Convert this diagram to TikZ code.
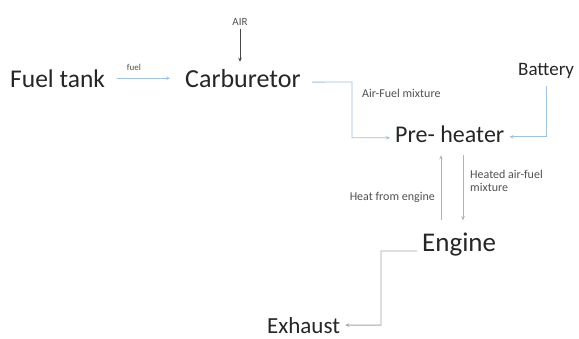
\documentclass[tikz,border=0pt]{standalone}
\usepackage{fontspec}
\setmainfont{Carlito}
\usetikzlibrary{arrows.meta,calc}
\definecolor{txt}{HTML}{262626}
\definecolor{lblue}{HTML}{9CC3E5}
\definecolor{gblue}{HTML}{A9B4C2}
\definecolor{lgray}{HTML}{A6A6A6}
\tikzset{
  big/.style={inner sep=0pt, anchor=base west, text=txt, font=\fontsize{#1}{#1}\selectfont},
  small/.style={inner sep=0pt, text=txt!80, font=\fontsize{#1}{#1}\selectfont},
  bl/.style={draw=lblue, line width=0.9pt, -{Stealth[length=4pt,width=3.5pt]}},
  gl/.style={draw=gblue, line width=0.9pt, -{Stealth[length=4pt,width=3.5pt]}},
  kl/.style={draw=lgray, line width=0.9pt, -{Stealth[length=4pt,width=3.5pt]}},
  dl/.style={draw=txt!85, line width=0.8pt, -{Stealth[length=4pt,width=3.5pt]}}
}
\begin{document}
\begin{tikzpicture}[x=1pt,y=-1pt]
\useasboundingbox[fill=white] (0,0) rectangle (579,338);
% main nodes
\node[big=25.5] (ft) at (10,87) {Fuel tank};
\node[big=26] (carb) at (185,87) {Carburetor};
\node[big=24] (pre) at (395,142) {Pre- heater};
\node[big=19] (bat) at (518,75) {Battery};
\node[big=27] (eng) at (422,251) {Engine};
\node[big=23] (exh) at (267,333) {Exhaust};
% labels
\node[small=11] (air) at (240,22) {AIR};
\node[small=9] (fuel) at (134,67) {fuel};
\node[small=12, anchor=west] (afm) at (362,93) {Air-Fuel mixture};
\node[small=12, anchor=east] (hfe) at (435,197) {Heat from engine};
\node[small=12, anchor=north west, align=left] (hafm) at (470,170) {Heated air-fuel\\[1pt]mixture};
% helper coordinates
\coordinate (k1) at (352,82);
\coordinate (k2) at (381,251);
\coordinate (ua) at (441,0);
\coordinate (da) at (463,0);
% connectors
\draw[bl, shorten <=12pt, shorten >=15pt] (ft.east) -- (ft.east -| carb.west);
\draw[dl, shorten <=3pt, shorten >=7pt] (air.south) -- (air.south |- carb.north);
\draw[bl, shorten >=5pt] ($(carb.east)+(11,4)$) -- (k1) |- ($(pre.west)+(0,4)$);
\draw[bl, shorten <=8pt, shorten >=5pt] (bat.south) |- ($(pre.east)+(0,3)$);
\draw[gl, shorten <=12pt, shorten >=13pt] (ua |- eng.north) -- (ua |- pre.south);
\draw[gl, shorten <=13pt, shorten >=12pt] (da |- pre.south) -- (da |- eng.north);
\draw[kl, shorten >=5pt] ($(eng.west)+(-5,7)$) -- (k2) |- (exh.east);
\end{tikzpicture}
\end{document}
